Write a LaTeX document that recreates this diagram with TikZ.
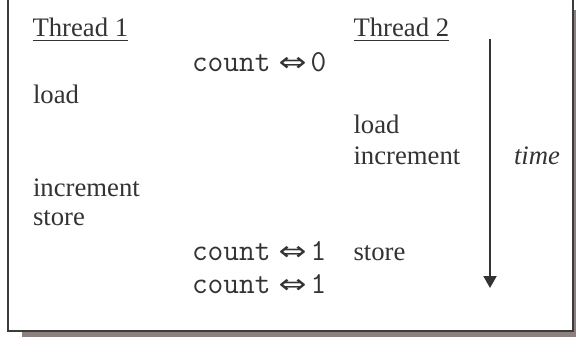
\documentclass[tikz,border=0pt]{standalone}
\usepackage{fontspec}
\setmainfont{Liberation Serif}
\newfontfamily\arrowfont{DejaVu Sans}
\usetikzlibrary{arrows.meta}
\definecolor{ink}{HTML}{333333}
\definecolor{framec}{HTML}{3C3C3C}
\definecolor{shadowc}{RGB}{140,128,126}
% counter value line: typewriter name, double arrow, value
\newcommand{\cnt}[1]{{\fontsize{30.5}{30}\ttfamily count}\hspace{8pt}\scalebox{1.25}[1]{\arrowfont ⇔}\hspace{4pt}{\fontsize{30.5}{30}\ttfamily #1}}
\begin{document}
\begin{tikzpicture}[x=1pt,y=-1pt,
  txt/.style={anchor=base west, inner sep=0pt, outer sep=0pt, text=ink,
              font=\fontsize{26.7}{30}\selectfont},
  uline/.style={draw=ink, line width=1.5pt},
  frame/.style={draw=framec, line width=2pt, fill=white},
  timearrow/.style={draw=ink, line width=2pt, -{Triangle[width=13pt,length=12pt]}}]
\useasboundingbox (0,0) rectangle (576,337);
% drop shadow and frame
\fill[shadowc] (22,10) rectangle (582,343);
\draw[frame] (8,-10) rectangle (572.5,331);
% column headings
\node[txt] (h1) at (32.5,37) {Thread 1};
\node[txt] (h2) at (353.5,37) {Thread 2};
\draw[uline] ([yshift=-3.5pt]h1.base west) -- ([yshift=-3.5pt]h1.base east);
\draw[uline] ([yshift=-3.5pt]h2.base west) -- ([yshift=-3.5pt]h2.base east);
% shared counter
\node[txt] (c0) at (192,72) {\cnt{0}};
\node[txt] (c1) at (192,260) {\cnt{1}};
\node[txt] (c2) at (192,293) {\cnt{1}};
% thread 1 steps
\node[txt] (a1) at (33,103) {load};
\node[txt] (a2) at (33,196) {increment};
\node[txt] (a3) at (33,225) {store};
% thread 2 steps
\node[txt] (b1) at (353.5,133) {load};
\node[txt] (b2) at (353.5,164) {increment};
\node[txt] (b3) at (353.5,260) {store};
% time axis
\coordinate (tstart) at (490,39);
\coordinate (tend) at (490,288);
\draw[timearrow] (tstart) -- (tend);
\node[txt] (tl) at (514,164) {\itshape time};
\end{tikzpicture}
\end{document}
